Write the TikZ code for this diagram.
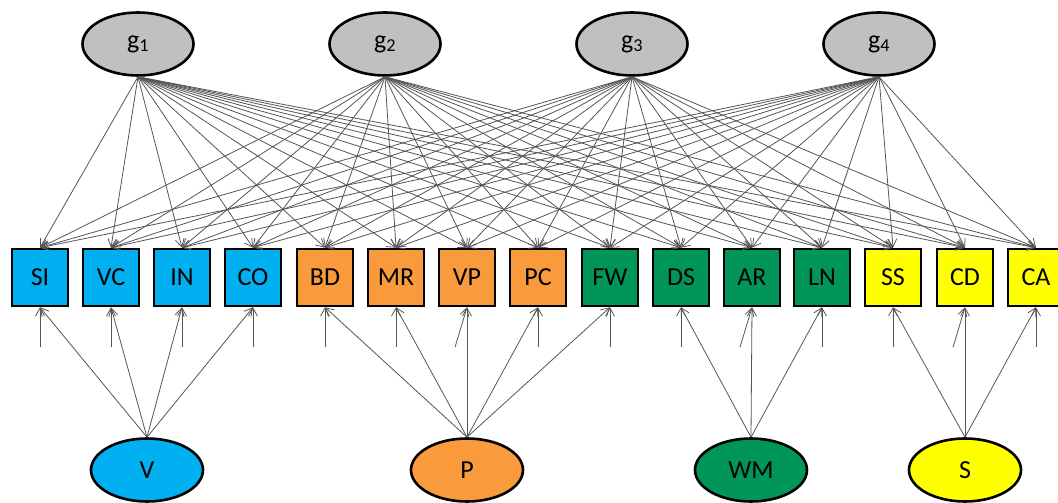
\documentclass[tikz,border=0pt]{standalone}
\usepackage{fontspec}
\setmainfont{Carlito}
\usepackage{tikz}
\usetikzlibrary{arrows.meta,shapes.geometric,calc}
\definecolor{vblue}{HTML}{00B0F0}
\definecolor{porange}{HTML}{F99A3C}
\definecolor{wmgreen}{HTML}{00965A}
\definecolor{syellow}{HTML}{FFFF00}
\definecolor{ggray}{HTML}{C0C0C0}
\definecolor{lgray}{HTML}{555555}
\tikzset{
  % General factors (top row)
  gfac/.style={draw=black,line width=2.6pt,fill=ggray,ellipse,minimum width=111pt,
               minimum height=63pt,inner sep=0pt,font=\fontsize{26}{30}\selectfont},
  % Specific factors (bottom row)
  sfac/.style={draw=black,line width=2.6pt,ellipse,minimum width=112pt,
               minimum height=63pt,inner sep=0pt,font=\fontsize{26}{30}\selectfont},
  % Observed tests
  test/.style={draw=black,line width=2.6pt,minimum width=56pt,minimum height=57pt,
               inner sep=0pt,font=\fontsize{26}{30}\selectfont},
  % Loadings & residuals
  fl/.style={-{Straight Barb[length=8pt,width=9pt]},lgray,line width=0.8pt}
}

\begin{document}
\begin{tikzpicture}[x=1pt,y=1pt]
  \useasboundingbox (0,0) rectangle (1058,503);

  % --- General factors: y = 459 ---
  \node[gfac] (g1) at (138,459) {g\textsubscript{1}};
  \node[gfac] (g2) at (385,459) {g\textsubscript{2}};
  \node[gfac] (g3) at (632,459) {g\textsubscript{3}};
  \node[gfac] (g4) at (879,459) {g\textsubscript{4}};

  % --- Tests: y = 225.5 ---
  \node[test,fill=vblue]   (si) at (40,225.5)   {SI};
  \node[test,fill=vblue]   (vc) at (111,225.5)  {VC};
  \node[test,fill=vblue]   (in) at (182,225.5)  {IN};
  \node[test,fill=vblue]   (co) at (253,225.5)  {CO};
  \node[test,fill=porange] (bd) at (325,225.5)  {BD};
  \node[test,fill=porange] (mr) at (396,225.5)  {MR};
  \node[test,fill=porange] (vp) at (467,225.5)  {VP};
  \node[test,fill=porange] (pc) at (538,225.5)  {PC};
  \node[test,fill=wmgreen] (fw) at (610,225.5)  {FW};
  \node[test,fill=wmgreen] (ds) at (681,225.5)  {DS};
  \node[test,fill=wmgreen] (ar) at (752,225.5)  {AR};
  \node[test,fill=wmgreen] (ln) at (822,225.5)  {LN};
  \node[test,fill=syellow] (ss) at (893,225.5)  {SS};
  \node[test,fill=syellow] (cd) at (965,225.5)  {CD};
  \node[test,fill=syellow] (ca) at (1036,225.5) {CA};

  % --- Specific factors: y = 33 ---
  \node[sfac,fill=vblue]   (v)  at (147,33) {V};
  \node[sfac,fill=porange] (p)  at (467,33) {P};
  \node[sfac,fill=wmgreen] (wm) at (751,33) {WM};
  \node[sfac,fill=syellow] (s)  at (965,33) {S};

  % --- General loadings (every g to every test) ---
  \foreach \g in {g1,g2,g3,g4}
    \foreach \t in {si,vc,in,co,bd,mr,vp,pc,fw,ds,ar,ln,ss,cd,ca}
      \draw[fl] (\g.south) -- (\t.north);

  % --- Specific loadings ---
  \foreach \t in {si,vc,in,co}    \draw[fl] (v.north)  -- (\t.south);
  \foreach \t in {bd,mr,vp,pc,fw} \draw[fl] (p.north)  -- (\t.south);
  \foreach \t in {ds,ar,ln}       \draw[fl] (wm.north) -- (\t.south);
  \foreach \t in {ss,cd,ca}       \draw[fl] (s.north)  -- (\t.south);

  % --- Residuals (free ends 40pt below each test) ---
  \foreach \t/\dx in {si/0,vc/0,in/0,co/0,bd/0,mr/0,vp/-12,pc/0,fw/0,
                      ds/0,ar/-12,ln/0,ss/0,cd/-12,ca/0}{
    \coordinate (e\t) at ($(\t.south)+(\dx,-40)$);
    \draw[fl] (e\t) -- (\t.south);
  }
\end{tikzpicture}
\end{document}
